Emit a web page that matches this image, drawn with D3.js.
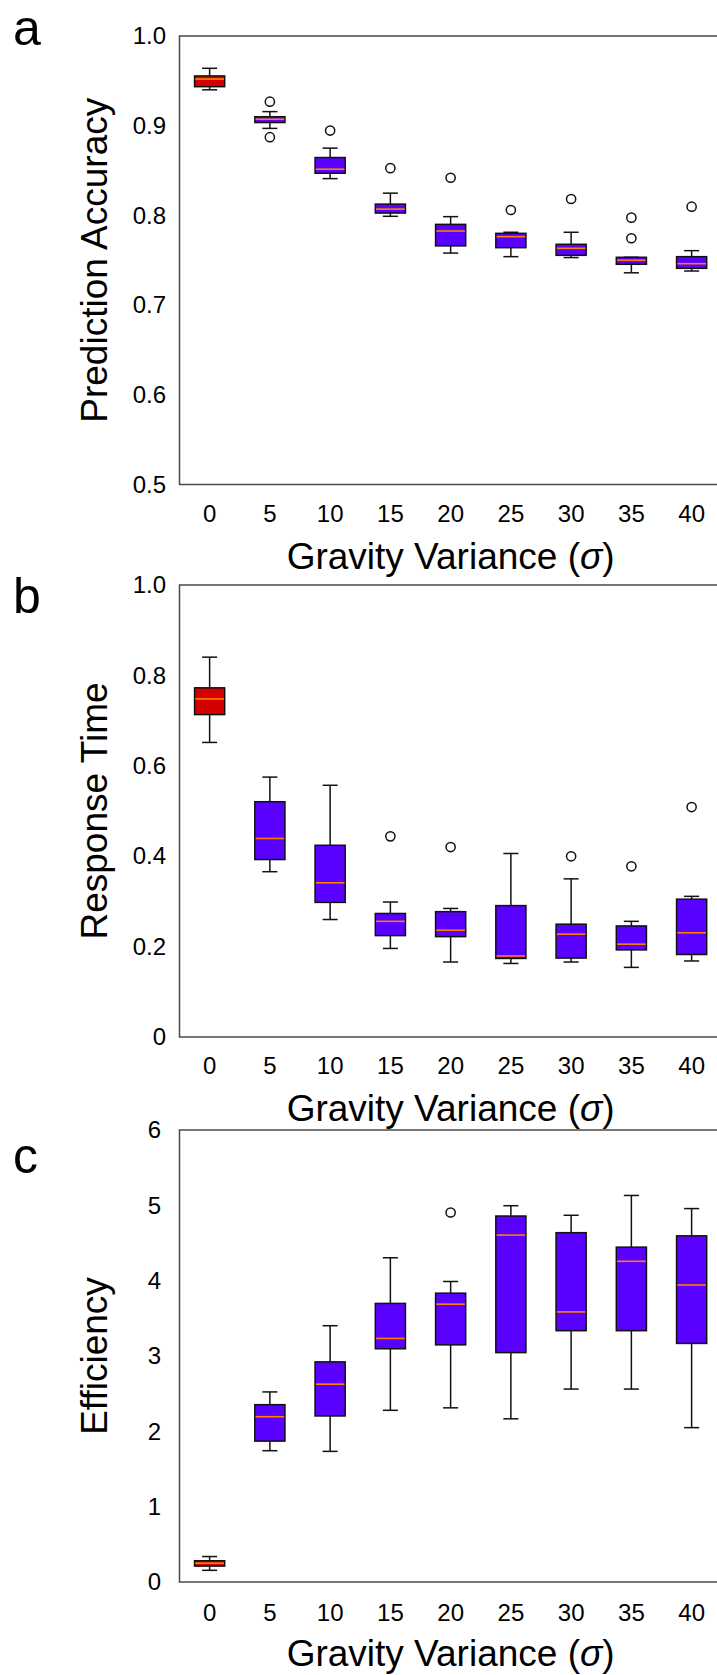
<!DOCTYPE html>
<html><head><meta charset="utf-8">
<script src="https://cdn.jsdelivr.net/npm/d3@7"></script>
<style>
body{margin:0;background:#fff}
svg{display:block}
text{font-family:"Liberation Sans",Arial,Helvetica,sans-serif;fill:#000}
</style>
</head><body>
<svg id="chart" width="717" height="1675"></svg>
<script>
// ---------- DATA ----------
const categories = ["0","5","10","15","20","25","30","35","40"];

// Panel a: Prediction Accuracy
const accLow  = [0.940, 0.897, 0.841, 0.799, 0.758, 0.754, 0.753, 0.736, 0.738];
const accQ1   = [0.9435,0.9035,0.847, 0.8026,0.766, 0.764, 0.7555,0.7455,0.741];
const accMed  = [0.952, 0.9072,0.8515,0.807, 0.7826,0.7763,0.7633,0.750, 0.7462];
const accQ3   = [0.9555,0.910, 0.8645,0.8126,0.790, 0.780, 0.7678,0.7533,0.754];
const accHigh = [0.964, 0.9157,0.875, 0.8248,0.7986,0.7812,0.7812,0.7533,0.7607];
const accOut  = [[],[0.9268,0.8872],[0.8946],[0.8527],[0.842],[0.806],[0.8183],[0.7975,0.7745],[0.8097]];

// Panel b: Response Time
const rtLow  = [0.6517,0.3657,0.2599,0.1959,0.1659,0.1627,0.1659,0.154, 0.1682];
const rtQ1   = [0.7133,0.3926,0.2978,0.2243,0.222, 0.1738,0.1746,0.1927,0.1825];
const rtMed  = [0.748, 0.4392,0.3412,0.2559,0.2362,0.1793,0.2275,0.2054,0.2306];
const rtQ3   = [0.7725,0.5205,0.4242,0.2733,0.2773,0.2907,0.2496,0.2457,0.3049];
const rtHigh = [0.8404,0.575, 0.5569,0.2986,0.2844,0.406, 0.3499,0.2559,0.3112];
const rtOut  = [[],[],[],[0.4439],[0.4202],[],[0.3997],[0.3776],[0.5087]];

// Panel c: Efficiency
const effLow  = [0.155,1.743,1.734,2.279,2.312,2.166,2.561,2.561,2.049];
const effQ1   = [0.211,1.870,2.204,3.096,3.148,3.045,3.336,3.336,3.167];
const effMed  = [0.249,2.194,2.626,3.233,3.688,4.605,3.585,4.257,3.942];
const effQ3   = [0.282,2.354,2.922,3.698,3.834,4.858,4.637,4.445,4.595];
const effHigh = [0.338,2.523,3.402,4.304,3.989,4.995,4.868,5.131,4.957];
const effOut  = [[],[],[],[],[4.905],[],[],[],[]];

const accTicks = [0.5,0.6,0.7,0.8,0.9,1.0];
const rtTicks  = [0,0.2,0.4,0.6,0.8,1.0];
const effTicks = [0,1,2,3,4,5,6];

const xTitleParts = ["Gravity Variance (", "\u03C3", ")"];

// ---------- LAYOUT ----------
const svg = d3.select("#chart");
const left = 179.5, right = 721.75;

const panels = [
  {letter:"a", letterY:45, top:36, bottom:484.5, domain:[0.5,1.0], ticks:accTicks,
   fmt:d3.format(".1f"), title:"Prediction Accuracy", yPad:13.5, xPad:20.5,
   low:accLow,q1:accQ1,med:accMed,q3:accQ3,high:accHigh,out:accOut},
  {letter:"b", letterY:613, top:585, bottom:1037, domain:[0,1.0], ticks:rtTicks,
   fmt:d=>d===0?"0":d3.format(".1f")(d), title:"Response Time", yPad:13.5, xPad:20,
   low:rtLow,q1:rtQ1,med:rtMed,q3:rtQ3,high:rtHigh,out:rtOut},
  {letter:"c", letterY:1173, top:1130, bottom:1582, domain:[0,6], ticks:effTicks,
   fmt:d3.format("d"), title:"Efficiency", yPad:18.5, xPad:22,
   low:effLow,q1:effQ1,med:effMed,q3:effQ3,high:effHigh,out:effOut}
];

const x = d3.scaleBand().domain(categories).range([left,right])
  .paddingInner(0.5).paddingOuter(0.25);
const bw = x.bandwidth();

panels.forEach((p) => {
  const y = d3.scaleLinear().domain(p.domain).range([p.bottom, p.top]);
  const g = svg.append("g");

  // frame
  g.append("rect").attr("x",left).attr("y",p.top)
    .attr("width",right-left).attr("height",p.bottom-p.top)
    .attr("fill","none").attr("stroke","#4a4a4a").attr("stroke-width",1.5);

  // y axis
  const ya = g.append("g").attr("transform",`translate(${left},0)`)
    .call(d3.axisLeft(y).tickValues(p.ticks).tickFormat(p.fmt).tickSize(0).tickPadding(p.yPad));
  ya.select(".domain").remove();
  ya.selectAll("text").style("font-size","24px").attr("fill","#000");

  // x axis
  const xa = g.append("g").attr("transform",`translate(0,${p.bottom})`)
    .call(d3.axisBottom(x).tickSize(0).tickPadding(p.xPad));
  xa.select(".domain").remove();
  xa.selectAll("text").style("font-size","24px").attr("fill","#000");

  // titles
  g.append("text").attr("transform",`translate(107,${(p.top+p.bottom)/2}) rotate(-90)`)
    .attr("text-anchor","middle").style("font-size","37px").text(p.title);
  const xt = g.append("text").attr("x",(left+right)/2).attr("y",p.bottom+84)
    .attr("text-anchor","middle").style("font-size","37px");
  xt.append("tspan").text(xTitleParts[0]);
  xt.append("tspan").style("font-style","italic").text(xTitleParts[1]);
  xt.append("tspan").text(xTitleParts[2]);
  g.append("text").attr("x",13).attr("y",p.letterY)
    .style("font-size","50px").text(p.letter);

  // boxes
  categories.forEach((c, i) => {
    const cx = x(c) + bw/2;
    const bg = g.append("g");
    const fill = i === 0 ? "#d40000" : "#5a00ff";
    const cap = bw/2;
    // whiskers
    bg.append("line").attr("x1",cx).attr("x2",cx)
      .attr("y1",y(p.q1[i])).attr("y2",y(p.low[i]))
      .attr("stroke","#111").attr("stroke-width",1.5);
    bg.append("line").attr("x1",cx).attr("x2",cx)
      .attr("y1",y(p.q3[i])).attr("y2",y(p.high[i]))
      .attr("stroke","#111").attr("stroke-width",1.5);
    [p.low[i], p.high[i]].forEach(v => {
      bg.append("line").attr("x1",cx-cap/2).attr("x2",cx+cap/2)
        .attr("y1",y(v)).attr("y2",y(v))
        .attr("stroke","#111").attr("stroke-width",1.5);
    });
    // box
    bg.append("rect").attr("x",cx-bw/2).attr("width",bw)
      .attr("y",y(p.q3[i])).attr("height",Math.max(0.5,y(p.q1[i])-y(p.q3[i])))
      .attr("fill",fill).attr("stroke","#111").attr("stroke-width",1.5);
    // median
    bg.append("line").attr("x1",cx-bw/2+0.75).attr("x2",cx+bw/2-0.75)
      .attr("y1",y(p.med[i])).attr("y2",y(p.med[i]))
      .attr("stroke","#ff8000").attr("stroke-width",1.6);
    // outliers
    p.out[i].forEach(v => {
      bg.append("circle").attr("cx",cx).attr("cy",y(v)).attr("r",4.6)
        .attr("fill","none").attr("stroke","#111").attr("stroke-width",1.5);
    });
  });
});
</script>
</body></html>
